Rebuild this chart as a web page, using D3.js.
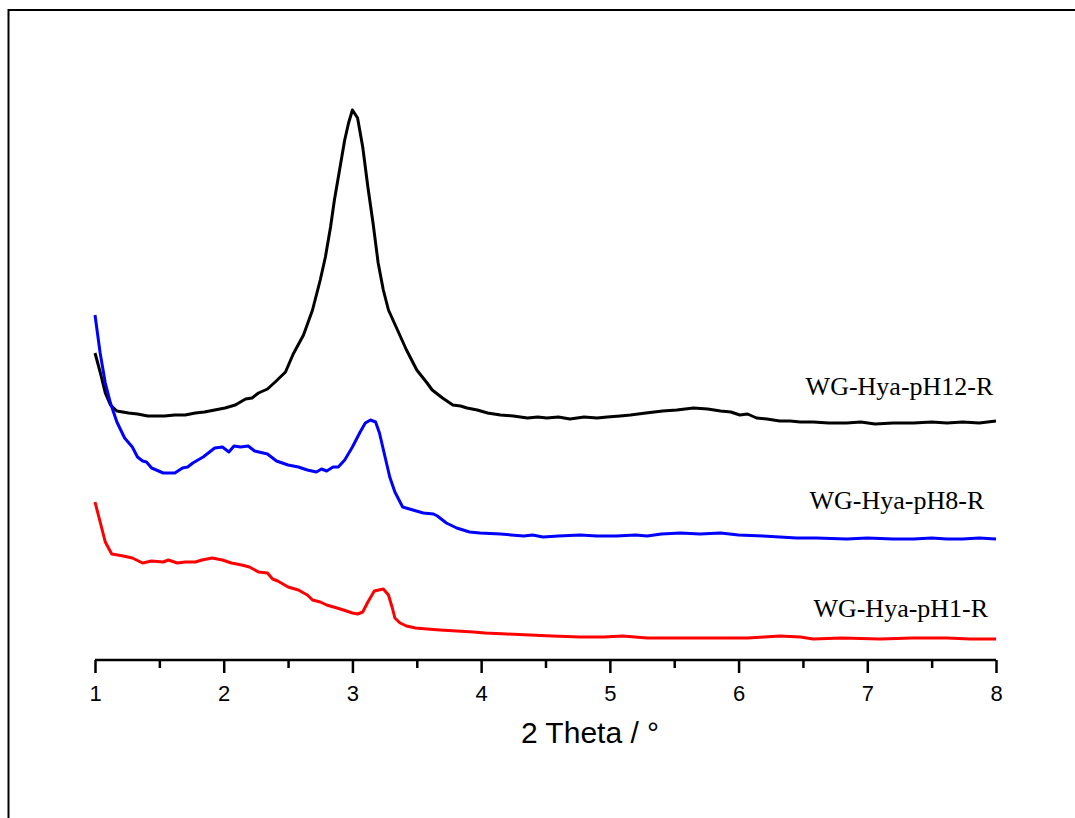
<!DOCTYPE html>
<html>
<head>
<meta charset="utf-8">
<script src="https://cdn.jsdelivr.net/npm/d3@7"></script>
<style>
  html, body { margin: 0; padding: 0; background: #fff; }
  svg { display: block; }
</style>
</head>
<body>
<svg id="chart" width="1075" height="818"></svg>
<script>
// 2 Theta (°) positions and intensities (arbitrary units, offset stacked as in the figure)
const pH12_x = [1.00,1.04,1.08,1.12,1.17,1.26,1.33,1.41,1.54,1.62,1.70,1.78,1.85,1.93,2.01,2.09,2.17,2.22,2.27,2.34,2.40,2.48,2.54,2.62,2.69,2.75,2.79,2.83,2.86,2.90,2.94,2.97,3.00,3.04,3.08,3.12,3.16,3.20,3.24,3.28,3.35,3.42,3.50,3.58,3.62,3.70,3.78,3.84,3.89,3.97,4.05,4.15,4.25,4.36,4.44,4.51,4.60,4.69,4.80,4.90,4.98,5.08,5.16,5.28,5.41,5.52,5.65,5.76,5.86,5.94,6.01,6.07,6.14,6.22,6.32,6.40,6.48,6.58,6.70,6.84,6.95,7.06,7.20,7.36,7.50,7.62,7.74,7.87,8.00];
const pH12_y = [307,288,267,255,249,247,246,244,244,245,245,247,248,250,252,255,261,262,267,271,278,288,306,325,350,380,403,433,460,490,520,537,550,542,513,473,437,397,370,350,330,310,290,277,270,262,255,254,252,250,247,245,244,242,243,242,243,241,243,242,243,244,245,247,249,250,252,251,249,248,245,246,242,241,239,239,238,238,237,237,238,236,237,237,238,237,238,237,239];

const pH8_x = [1.00,1.04,1.08,1.12,1.17,1.23,1.29,1.33,1.37,1.40,1.44,1.53,1.62,1.68,1.72,1.76,1.84,1.89,1.93,1.99,2.04,2.08,2.13,2.19,2.24,2.34,2.41,2.50,2.58,2.65,2.72,2.76,2.80,2.85,2.89,2.94,3.00,3.06,3.10,3.14,3.18,3.21,3.25,3.29,3.33,3.39,3.47,3.55,3.63,3.66,3.73,3.81,3.91,3.99,4.15,4.33,4.40,4.48,4.60,4.77,4.90,5.05,5.20,5.29,5.40,5.55,5.70,5.86,6.00,6.19,6.32,6.45,6.60,6.84,7.00,7.20,7.36,7.50,7.62,7.74,7.87,8.00];
const pH8_y = [345,307,277,257,238,222,213,203,199,198,192,187,187,192,193,197,203,208,212,213,208,214,213,214,209,206,199,195,193,190,188,191,189,193,193,200,213,228,237,240,238,227,205,183,168,153,150,147,146,144,137,132,128,127,126,124,125,123,124,125,124,124,125,124,126,127,126,127,125,124,123,122,122,121,122,121,121,122,121,121,122,121];

const pH1_x = [1.00,1.04,1.08,1.13,1.22,1.29,1.37,1.44,1.53,1.57,1.64,1.70,1.78,1.83,1.91,1.99,2.06,2.14,2.20,2.27,2.34,2.38,2.42,2.50,2.58,2.65,2.69,2.75,2.80,2.88,2.93,3.00,3.04,3.08,3.12,3.17,3.24,3.28,3.31,3.33,3.37,3.42,3.49,3.58,3.68,3.81,3.94,4.03,4.20,4.38,4.55,4.77,4.95,5.10,5.29,5.50,5.80,6.07,6.20,6.32,6.48,6.58,6.80,7.10,7.35,7.62,7.80,8.00];
const pH1_y = [158,138,118,106,104,102,97,99,98,100,97,98,98,100,102,100,97,95,93,88,87,81,79,73,70,65,60,58,55,52,50,47,46,48,58,69,71,65,52,42,37,34,32,31,30,29,28,27,26,25,24,23,23,24,22,22,22,22,23,24,23,21,22,21,22,22,21,21];

const seriesNames = ["WG-Hya-pH12-R", "WG-Hya-pH8-R", "WG-Hya-pH1-R"];
const seriesColors = ["#000000", "#0000ff", "#ff0000"];
const majorTicks = [1, 2, 3, 4, 5, 6, 7, 8];
const minorTicks = [1.5, 2.5, 3.5, 4.5, 5.5, 6.5, 7.5];
const xTitle = "2 Theta / °";

const svg = d3.select("#chart");

// outer frame
svg.append("rect")
  .attr("x", 8.5).attr("y", 10)
  .attr("width", 1200).attr("height", 1000)
  .attr("fill", "none").attr("stroke", "#000").attr("stroke-width", 2);

const x = d3.scaleLinear().domain([1, 8]).range([95, 996]);
const y = d3.scaleLinear().domain([0, 560]).range([660, 100]);

const series = [
  { name: seriesNames[0], color: seriesColors[0], xs: pH12_x, ys: pH12_y, labelX: 7.25, labelY: 265 },
  { name: seriesNames[1], color: seriesColors[1], xs: pH8_x, ys: pH8_y, labelX: 7.23, labelY: 151 },
  { name: seriesNames[2], color: seriesColors[2], xs: pH1_x, ys: pH1_y, labelX: 7.26, labelY: 43 }
];

const line = d3.line().x(d => x(d[0])).y(d => y(d[1]));

series.forEach(s => {
  const pts = s.xs.map((v, i) => [v, s.ys[i]]);
  svg.append("path")
    .datum(pts)
    .attr("d", line)
    .attr("fill", "none")
    .attr("stroke", s.color)
    .attr("stroke-width", 3)
    .attr("stroke-linejoin", "round");
  svg.append("text")
    .attr("x", x(s.labelX))
    .attr("y", y(s.labelY))
    .attr("text-anchor", "middle")
    .attr("font-family", "'Liberation Serif', 'Times New Roman', serif")
    .attr("font-size", 26)
    .attr("fill", "#000")
    .text(s.name);
});

// x axis
const axisG = svg.append("g").attr("transform", "translate(0,660)");
axisG.call(d3.axisBottom(x).tickValues(majorTicks).tickSize(13).tickFormat(d3.format("d")).tickPadding(12));
axisG.select(".domain").attr("stroke", "#000").attr("stroke-width", 2.5).attr("d", `M${x(1)},0H${x(8)}`);
axisG.selectAll(".tick line").attr("stroke", "#000").attr("stroke-width", 2.5);
axisG.selectAll(".tick text")
  .attr("font-family", "'Liberation Sans', Arial, sans-serif")
  .attr("font-size", 22)
  .attr("fill", "#000");

const minorG = svg.append("g").attr("transform", "translate(0,660)");
minorG.call(d3.axisBottom(x).tickValues(minorTicks).tickSize(8).tickFormat(""));
minorG.select(".domain").remove();
minorG.selectAll(".tick line").attr("stroke", "#000").attr("stroke-width", 2.5);

svg.append("text")
  .attr("x", 590).attr("y", 743)
  .attr("text-anchor", "middle")
  .attr("font-family", "'Liberation Sans', Arial, sans-serif")
  .attr("font-size", 30)
  .attr("fill", "#000")
  .text(xTitle);
</script>
</body>
</html>
